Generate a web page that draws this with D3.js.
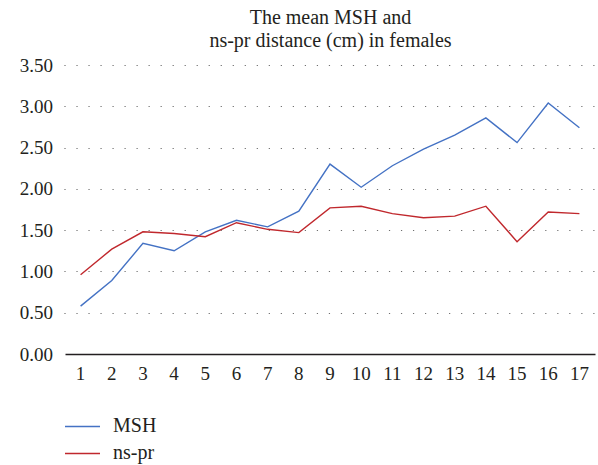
<!DOCTYPE html>
<html>
<head>
<meta charset="utf-8">
<script src="https://cdn.jsdelivr.net/npm/d3@7"></script>
<style>
  html, body { margin: 0; padding: 0; background: #fff; }
  svg { display: block; }
  svg text { font-family: "Liberation Serif", "Times New Roman", Times, serif; }
</style>
</head>
<body>
<svg id="chart" width="598" height="465"></svg>
<script>
const categories = ["1","2","3","4","5","6","7","8","9","10","11","12","13","14","15","16","17"];
const mshValues  = [0.58,0.89,1.34,1.25,1.48,1.62,1.54,1.73,2.30,2.02,2.28,2.48,2.65,2.86,2.56,3.04,2.74];
const nsprValues = [0.96,1.27,1.48,1.46,1.42,1.59,1.51,1.47,1.77,1.79,1.70,1.65,1.67,1.79,1.36,1.72,1.70];
const yTicks = [0, 0.5, 1, 1.5, 2, 2.5, 3, 3.5];
const titleLines = ["The mean MSH and", "ns-pr distance (cm) in females"];
const seriesNames = ["MSH", "ns-pr"];
const seriesColors = ["#4472c4", "#c0282d"];

(function () {
const FONT = '"Liberation Serif", "Times New Roman", Times, serif';
const svg = d3.select("#chart")
  .attr("font-family", FONT)
  .style("font-family", FONT);
const mLeft = 65, mRight = 595, mTop = 65, mBottom = 354;

const x = d3.scaleBand().domain(categories).range([mLeft, mRight]);
const y = d3.scaleLinear().domain([0, 3.5]).range([mBottom, mTop]);

function styleText(sel, size) {
  sel.attr("font-family", FONT).style("font-family", FONT)
     .attr("font-size", size).style("font-size", size + "px")
     .attr("fill", "#231f20");
}

// title
const title = svg.append("text").attr("text-anchor", "middle").call(styleText, 20);
title.selectAll("tspan").data(titleLines).join("tspan")
  .attr("x", 330.5)
  .attr("y", (d, i) => 24 + i * 23)
  .text(d => d);

// gridlines (dotted)
svg.append("g").selectAll("line").data(yTicks.filter(d => d > 0)).join("line")
  .attr("x1", mLeft - 0.6).attr("x2", mRight)
  .attr("y1", d => Math.round(y(d)) + 0.5).attr("y2", d => Math.round(y(d)) + 0.5)
  .attr("stroke", "#6f6f6f").attr("stroke-width", 1.2)
  .attr("stroke-dasharray", "1.2,10.82");

// y axis labels
const yAxis = d3.axisLeft(y).tickValues(yTicks).tickFormat(d3.format(".2f")).tickSize(0).tickPadding(12);
const gy = svg.append("g").attr("transform", `translate(${mLeft},0)`).call(yAxis)
  .attr("font-family", FONT).attr("font-size", 19);
gy.select(".domain").remove();
gy.selectAll("text").call(styleText, 19);

// x axis
const xAxis = d3.axisBottom(x).tickSize(0).tickPadding(13);
const gx = svg.append("g").attr("transform", `translate(0,${mBottom})`).call(xAxis)
  .attr("font-family", FONT).attr("font-size", 19);
gx.select(".domain").attr("stroke", "#231f20").attr("stroke-width", 1.5);
gx.selectAll("text").call(styleText, 19);

// lines
const line = d3.line()
  .x((d, i) => x(categories[i]) + x.bandwidth() / 2)
  .y(d => y(d));

[mshValues, nsprValues].forEach((vals, k) => {
  svg.append("path")
    .datum(vals)
    .attr("fill", "none")
    .attr("stroke", seriesColors[k])
    .attr("stroke-width", 1.4)
    .attr("stroke-linejoin", "miter")
    .attr("d", line);
});

// legend
const lg = svg.append("g");
seriesNames.forEach((name, i) => {
  const ly = 426.5 + i * 27;
  lg.append("line").attr("x1", 65).attr("x2", 100).attr("y1", ly).attr("y2", ly)
    .attr("stroke", seriesColors[i]).attr("stroke-width", 1.4);
  lg.append("text").attr("x", 113).attr("y", ly + 5).call(styleText, 20).text(name);
});
})();
</script>
</body>
</html>
